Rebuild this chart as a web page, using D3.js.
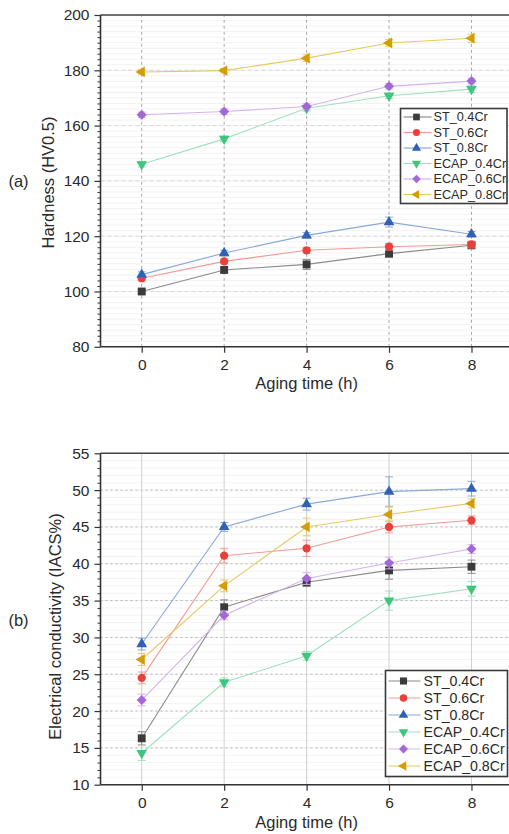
<!DOCTYPE html>
<html><head><meta charset="utf-8">
<script src="https://cdn.jsdelivr.net/npm/d3@7"></script>
<style>
html,body{margin:0;padding:0;background:#fff;}
svg{display:block;font-family:"Liberation Sans",Arial,sans-serif;}
</style></head>
<body>
<svg id="c" width="509" height="834"></svg>
<script>
const times = [0, 2, 4, 6, 8];
const seriesNames = ["ST_0.4Cr", "ST_0.6Cr", "ST_0.8Cr", "ECAP_0.4Cr", "ECAP_0.6Cr", "ECAP_0.8Cr"];
// Hardness (HV0.5)
const hv_ST04 = [100, 107.8, 109.8, 113.7, 116.7];
const hv_ST06 = [104.8, 110.9, 114.9, 116.2, 117.0];
const hv_ST08 = [106.1, 113.9, 120.3, 125.1, 120.7];
const hv_EC04 = [146.0, 155.2, 166.3, 170.8, 173.2];
const hv_EC06 = [163.9, 165.1, 166.9, 174.2, 176.1];
const hv_EC08 = [179.4, 179.9, 184.4, 189.9, 191.6];
const hvErr_ST04 = [0.8, 1.0, 1.8, 1.2, 1.0];
const hvErr_ST06 = [0.8, 0.8, 1.0, 1.2, 1.2];
const hvErr_ST08 = [1.0, 1.0, 1.0, 1.8, 1.0];
const hvErr_EC04 = [1.0, 1.0, 1.0, 1.0, 1.2];
const hvErr_EC06 = [1.0, 1.0, 1.0, 1.0, 1.0];
const hvErr_EC08 = [0.8, 0.8, 1.2, 1.2, 1.5];
// Electrical conductivity (IACS%)
const ec_ST04 = [16.3, 34.1, 37.5, 39.1, 39.6];
const ec_ST06 = [24.5, 41.1, 42.1, 45.0, 45.9];
const ec_ST08 = [29.1, 45.0, 48.1, 49.8, 50.2];
const ec_EC04 = [14.3, 23.9, 27.5, 35.0, 36.6];
const ec_EC06 = [21.5, 33.0, 38.0, 40.1, 42.0];
const ec_EC08 = [27.0, 37.0, 45.0, 46.7, 48.2];
const ecErr_ST04 = [0.9, 1.0, 0.6, 1.2, 0.9];
const ecErr_ST06 = [0.8, 1.0, 1.1, 0.8, 0.6];
const ecErr_ST08 = [0.8, 0.6, 0.8, 2.0, 1.0];
const ecErr_EC04 = [1.0, 0.6, 0.6, 1.3, 1.0];
const ecErr_EC06 = [0.8, 0.6, 0.8, 0.8, 0.6];
const ecErr_EC08 = [0.8, 0.8, 1.2, 1.0, 0.6];

const hvTicks = [80, 100, 120, 140, 160, 180, 200];
const ecTicks = [10, 15, 20, 25, 30, 35, 40, 45, 50, 55];
const xTicks = [0, 2, 4, 6, 8];

const markerColors = ["#3b3b3b", "#e8403a", "#3161b5", "#3dc77d", "#a468d6", "#d49d06"];
const lineColors = ["#8a8a8a", "#f09a95", "#8aa8d8", "#9fe0bd", "#d3b3ee", "#e8c865"];
const shapes = ["square", "circle", "up", "down", "diamond", "left"];

const svg = d3.select("#c");

function symbolPath(shape) {
  if (shape === "square") return d3.symbol(d3.symbolSquare, 62)();
  if (shape === "circle") return d3.symbol(d3.symbolCircle, 54)();
  if (shape === "diamond") return d3.symbol(d3.symbolSquare, 50)();
  return d3.symbol(d3.symbolTriangle, 50)();
}
function symbolRot(shape) {
  if (shape === "down") return 180;
  if (shape === "left") return -90;
  if (shape === "diamond") return 45;
  return 0;
}

function drawPanel(cfg) {
  const g = svg.append("g");
  const x = d3.scaleLinear().domain([-1, 9]).range([100.5, 512.7]);
  const y = d3.scaleLinear().domain(cfg.yDomain).range(cfg.yRange);
  const [x0, x1] = x.range();
  const [yb, yt] = cfg.yRange;

  // minor horizontal grid
  const minors = d3.range(cfg.yDomain[0], cfg.yDomain[1] + 1e-9, cfg.minorStep);
  g.append("g").selectAll("line").data(minors).join("line")
    .attr("x1", x0).attr("x2", x1).attr("y1", d => y(d)).attr("y2", d => y(d))
    .attr("stroke", "#efefef").attr("stroke-width", 0.8);
  // major horizontal grid
  g.append("g").selectAll("line").data(cfg.yTicks.slice(1, -1)).join("line")
    .attr("x1", x0).attr("x2", x1).attr("y1", d => y(d)).attr("y2", d => y(d))
    .attr("stroke", cfg.majorGridColor).attr("stroke-width", 1)
    .attr("stroke-dasharray", cfg.majorDash);
  // vertical grid
  g.append("g").selectAll("line").data(xTicks).join("line")
    .attr("x1", d => x(d)).attr("x2", d => x(d)).attr("y1", yb).attr("y2", yt)
    .attr("stroke", cfg.vGridColor).attr("stroke-width", 1)
    .attr("stroke-dasharray", cfg.vDash);

  // top border
  g.append("line").attr("x1", x0).attr("x2", x1).attr("y1", yt).attr("y2", yt)
    .attr("stroke", "#444").attr("stroke-width", 1.6);

  // axes
  const yAxis = d3.axisLeft(y).tickValues(cfg.yTicks).tickSize(6).tickPadding(4).tickFormat(d3.format("d"));
  const ya = g.append("g").attr("transform", `translate(${x0},0)`).call(yAxis);
  const yMinor = d3.axisLeft(y).tickValues(minors.filter(v => !cfg.yTicks.includes(Math.round(v*1000)/1000))).tickSize(3).tickFormat("");
  g.append("g").attr("transform", `translate(${x0},0)`).call(yMinor)
    .call(s => s.select(".domain").remove())
    .selectAll("line").attr("stroke", "#333").attr("stroke-width", 1);
  const xAxis = d3.axisBottom(x).tickValues(xTicks).tickSize(6).tickPadding(6).tickFormat(d3.format("d"));
  const xa = g.append("g").attr("transform", `translate(0,${yb})`).call(xAxis);
  [ya, xa].forEach(a => {
    a.select(".domain").attr("stroke", "#333").attr("stroke-width", 1.6);
    a.selectAll(".tick line").attr("stroke", "#333").attr("stroke-width", 1.2);
    a.selectAll("text").attr("font-size", 15.5).attr("fill", "#2a2a2a")
      .attr("font-family", "'Liberation Sans', Arial, sans-serif");
  });
  xa.select(".domain").attr("d", `M${x0},0H${x1}`);
  ya.select(".domain").attr("d", `M0,${yb}V${yt}`);
  ya.selectAll("text").attr("dx", "-1");

  // series
  cfg.series.forEach((vals, i) => {
    const errs = cfg.errs[i];
    const pts = times.map((t, j) => ({ t, v: vals[j], e: errs[j] }));
    const sg = g.append("g");
    sg.append("path").datum(pts)
      .attr("d", d3.line().x(d => x(d.t)).y(d => y(d.v)))
      .attr("fill", "none").attr("stroke", lineColors[i]).attr("stroke-width", 1.1);
    // error bars
    const eb = sg.append("g").attr("stroke", lineColors[i]).attr("stroke-width", 1);
    pts.forEach(p => {
      eb.append("line").attr("x1", x(p.t)).attr("x2", x(p.t)).attr("y1", y(p.v - p.e)).attr("y2", y(p.v + p.e));
      eb.append("line").attr("x1", x(p.t) - 4).attr("x2", x(p.t) + 4).attr("y1", y(p.v + p.e)).attr("y2", y(p.v + p.e));
      eb.append("line").attr("x1", x(p.t) - 4).attr("x2", x(p.t) + 4).attr("y1", y(p.v - p.e)).attr("y2", y(p.v - p.e));
    });
    sg.selectAll("path.m").data(pts).join("path").attr("class", "m")
      .attr("d", symbolPath(shapes[i]))
      .attr("transform", d => `translate(${x(d.t)},${y(d.v)}) rotate(${symbolRot(shapes[i])})`)
      .attr("fill", markerColors[i]);
  });

  // legend
  const L = cfg.legend;
  const lg = g.append("g");
  lg.append("rect").attr("x", L.x).attr("y", L.y).attr("width", L.w).attr("height", L.h)
    .attr("fill", "#fff").attr("stroke", "#3a3a3a").attr("stroke-width", 1.6);
  seriesNames.forEach((name, i) => {
    const cy = L.y + L.first + i * L.step;
    lg.append("line").attr("x1", L.x + L.lx1).attr("x2", L.x + L.lx2).attr("y1", cy).attr("y2", cy)
      .attr("stroke", lineColors[i]).attr("stroke-width", 1.2);
    lg.append("path").attr("d", symbolPath(shapes[i]))
      .attr("transform", `translate(${L.x + L.mx},${cy}) rotate(${symbolRot(shapes[i])}) scale(${L.ms})`)
      .attr("fill", markerColors[i]);
    lg.append("text").attr("x", L.x + L.tx).attr("y", cy).attr("dy", "0.35em")
      .attr("font-size", L.fs).attr("fill", "#2a2a2a").text(name);
  });

  // titles
  g.append("text").attr("x", (x(0) + x(8)) / 2).attr("y", cfg.xTitleY).attr("text-anchor", "middle")
    .attr("font-size", 16.5).attr("fill", "#2a2a2a").text("Aging time (h)");
  g.append("text").attr("transform", `translate(${cfg.yTitleX},${cfg.yTitleY}) rotate(-90)`)
    .attr("text-anchor", "middle").attr("dy", "0.35em")
    .attr("font-size", 16.5).attr("fill", "#2a2a2a").text(cfg.yTitle);
  g.append("text").attr("x", 18.5).attr("y", cfg.tagY).attr("text-anchor", "middle").attr("dy", "0.35em")
    .attr("font-size", 16.5).attr("fill", "#2a2a2a").text(cfg.tag);
}

drawPanel({
  yDomain: [80, 200], yRange: [346.8, 15], yTicks: hvTicks, minorStep: 2,
  majorGridColor: "#d8d8d8", majorDash: "4,3", vGridColor: "#a8a8a8", vDash: "3,3",
  series: [hv_ST04, hv_ST06, hv_ST08, hv_EC04, hv_EC06, hv_EC08],
  errs: [hvErr_ST04, hvErr_ST06, hvErr_ST08, hvErr_EC04, hvErr_EC06, hvErr_EC08],
  legend: { x: 400.5, y: 108.5, w: 106.5, h: 95, first: 8.5, step: 15.5, lx1: 3, lx2: 31, mx: 16, ms: 0.85, tx: 33, fs: 12.7 },
  xTitleY: 389, yTitle: "Hardness (HV0.5)", yTitleX: 48.5, yTitleY: 182.5, tag: "(a)", tagY: 181
});

drawPanel({
  yDomain: [10, 55], yRange: [784.7, 453.3], yTicks: ecTicks, minorStep: 1,
  majorGridColor: "#b4b4b4", majorDash: "2,3", vGridColor: "#d0d0d0", vDash: null,
  series: [ec_ST04, ec_ST06, ec_ST08, ec_EC04, ec_EC06, ec_EC08],
  errs: [ecErr_ST04, ecErr_ST06, ecErr_ST08, ecErr_EC04, ecErr_EC06, ecErr_EC08],
  legend: { x: 385.5, y: 670.5, w: 122, h: 106, first: 10.5, step: 17, lx1: 3, lx2: 35, mx: 18, ms: 0.9, tx: 38, fs: 14.2 },
  xTitleY: 828, yTitle: "Electrical conductivity (IACS%)", yTitleX: 55, yTitleY: 626.5, tag: "(b)", tagY: 620
});
</script>
</body></html>
